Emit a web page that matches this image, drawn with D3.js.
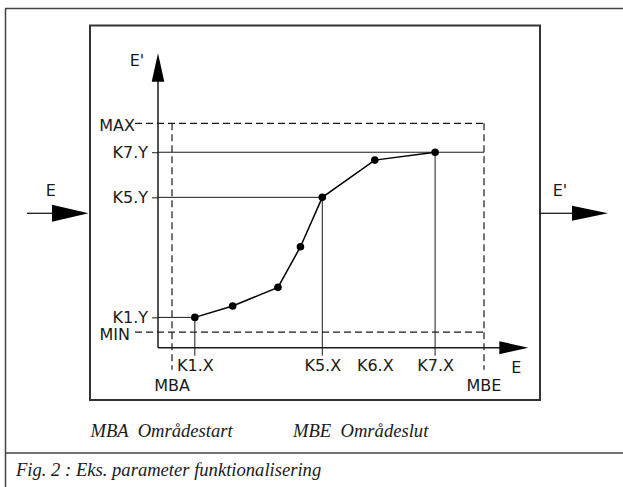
<!DOCTYPE html>
<html>
<head>
<meta charset="utf-8">
<script src="https://cdn.jsdelivr.net/npm/d3@7"></script>
<style>
  body { margin: 0; background: #fff; }
  svg { display: block; }
</style>
</head>
<body>
<div id="chart"></div>
<script>
/* Eks. parameter funktionalisering */

// knot points of the characteristic (E -> E')
const knotX = [11.3, 22.9, 36.8, 43.7, 50.4, 66.5, 85.0];
const knotY = [13.5, 18.6, 26.9, 45.0, 67.0, 83.6, 87.1];

// labelled knots on each axis (index into the knot arrays)
const xKnotLabels = ["K1.X", "K5.X", "K6.X", "K7.X"];
const xKnotIndex = [0, 4, 5, 6];
const yKnotLabels = ["K7.Y", "K5.Y", "K1.Y"];
const yKnotIndex = [6, 4, 0];
// knots that get a drop line to the E axis
const dropIndex = [0, 4, 6];

// range limits
const rangeLabels = ["MBA", "MBE"];
const rangeValues = [4.3, 100];
const limitLabels = ["MAX", "MIN"];
const limitValues = [100, 6.9];

// axis extents (arrow tips)
const xAxisEnd = 113.6;
const yAxisEnd = 131.2;

const legendTexts = ["MBA  Områdestart", "MBE  Områdeslut"];
const caption = "Fig. 2 : Eks. parameter funktionalisering";

const W = 623, H = 487;
const sans = "DejaVu Sans", serif = "Liberation Serif";
const ink = "#1a1a1a";

const svg = d3.select("#chart")
  .append("svg")
  .attr("width", W)
  .attr("height", H);

// scales
const x = d3.scaleLinear().domain([0, 100]).range([158, 484]);
const y = d3.scaleLinear().domain([0, 100]).range([347.7, 123.3]);
const x0 = x(0), y0 = y(0);

// outer frame and caption rule
const frame = svg.append("g").attr("stroke", "#444").attr("stroke-width", 1.5);
frame.append("line").attr("x1", 5).attr("x2", W).attr("y1", 8.5).attr("y2", 8.5);
frame.append("line").attr("x1", 5.5).attr("x2", 5.5).attr("y1", 8.5).attr("y2", H);
frame.append("line").attr("x1", 5).attr("x2", W).attr("y1", 453).attr("y2", 453);

// function block
svg.append("rect")
  .attr("x", 90).attr("y", 25.5)
  .attr("width", 450).attr("height", 374.5)
  .attr("fill", "none")
  .attr("stroke", "#333")
  .attr("stroke-width", 2);

// input / output arrows
function arrowRight(xs, xb, xt, yy, hh) {
  svg.append("line").attr("x1", xs).attr("x2", xb).attr("y1", yy).attr("y2", yy)
    .attr("stroke", ink).attr("stroke-width", 1.3);
  svg.append("path")
    .attr("d", d3.line()([[xb, yy - hh], [xt, yy], [xb, yy + hh]]) + "Z")
    .attr("fill", "#000");
}
arrowRight(27, 52, 88.5, 213.3, 8.5);
arrowRight(540, 572, 608, 213.3, 7.5);

svg.append("text").attr("x", 50.7).attr("y", 195.5).attr("text-anchor", "middle")
  .style("font", "16px '" + sans + "'").attr("fill", ink).text("E");
svg.append("text").attr("x", 560).attr("y", 195.5).attr("text-anchor", "middle")
  .style("font", "16px '" + sans + "'").attr("fill", ink).text("E'");

// dashed range box (MAX / MIN / MBA / MBE)
const dash = svg.append("g")
  .attr("stroke", ink)
  .attr("stroke-width", 1.2)
  .attr("stroke-dasharray", "7,4")
  .attr("fill", "none");

limitValues.forEach(function(v) {
  dash.append("line")
    .attr("x1", x0 - 23).attr("x2", x(rangeValues[1]))
    .attr("y1", y(v)).attr("y2", y(v));
});
rangeValues.forEach(function(v) {
  dash.append("line")
    .attr("x1", x(v)).attr("x2", x(v))
    .attr("y1", y(limitValues[0])).attr("y2", y0 + 22);
});

svg.selectAll(".limit-label")
  .data(limitLabels)
  .enter().append("text")
  .attr("class", "limit-label")
  .attr("x", function(d, i) { return x0 - 23 - (i === 0 ? 0 : 5); })
  .attr("y", function(d, i) { return y(limitValues[i]) + 7.5; })
  .attr("text-anchor", "end")
  .style("font", "16px '" + sans + "'")
  .attr("fill", ink)
  .text(function(d) { return d; });

svg.selectAll(".range-label")
  .data(rangeLabels)
  .enter().append("text")
  .attr("class", "range-label")
  .attr("x", function(d, i) { return x(rangeValues[i]); })
  .attr("y", y0 + 43.5)
  .attr("text-anchor", "middle")
  .style("font", "16px '" + sans + "'")
  .attr("fill", ink)
  .text(function(d) { return d; });

// guide lines from the knots to the axes
const guide = svg.append("g").attr("stroke", ink).attr("stroke-width", 1);
yKnotIndex.forEach(function(k, i) {
  const xEnd = i === 0 ? x(rangeValues[1]) : x(knotX[k]);
  guide.append("line")
    .attr("x1", x0).attr("x2", xEnd)
    .attr("y1", y(knotY[k])).attr("y2", y(knotY[k]));
});
dropIndex.forEach(function(k) {
  guide.append("line")
    .attr("x1", x(knotX[k])).attr("x2", x(knotX[k]))
    .attr("y1", y(knotY[k])).attr("y2", y0 + 8);
});

// y axis (E') with knot ticks
const yAxis = d3.axisLeft(y)
  .tickValues(yKnotIndex.map(function(k) { return knotY[k]; }))
  .tickFormat(function(d, i) { return yKnotLabels[i]; })
  .tickSize(6)
  .tickPadding(4);
const yApp = svg.append("g")
  .attr("transform", "translate(" + x0 + ",0)")
  .call(yAxis);
yApp.select(".domain").remove();

// x axis (E) with knot labels
const xAxis = d3.axisBottom(x)
  .tickValues(xKnotIndex.map(function(k) { return knotX[k]; }))
  .tickFormat(function(d, i) { return xKnotLabels[i]; })
  .tickSize(0)
  .tickPadding(11.5);
const xApp = svg.append("g")
  .attr("transform", "translate(0," + y0 + ")")
  .call(xAxis);
xApp.select(".domain").remove();

[xApp, yApp].forEach(function(a) {
  a.attr("font-family", sans).attr("font-size", 16);
  a.selectAll("line").attr("stroke", ink);
  a.selectAll("text").attr("fill", ink);
});

// axis lines with arrows
svg.append("line")
  .attr("x1", x0).attr("x2", x0)
  .attr("y1", y0).attr("y2", y(yAxisEnd) + 20)
  .attr("stroke", ink).attr("stroke-width", 1.5);
svg.append("path")
  .attr("d", d3.line()([[x0 - 6.3, y(yAxisEnd) + 28.5], [x0, y(yAxisEnd)], [x0 + 6.3, y(yAxisEnd) + 28.5]]) + "Z")
  .attr("fill", "#000");
svg.append("line")
  .attr("x1", x0).attr("x2", x(xAxisEnd) - 20)
  .attr("y1", y0).attr("y2", y0)
  .attr("stroke", ink).attr("stroke-width", 1.5);
svg.append("path")
  .attr("d", d3.line()([[x(xAxisEnd) - 29, y0 - 6.5], [x(xAxisEnd), y0], [x(xAxisEnd) - 29, y0 + 6.5]]) + "Z")
  .attr("fill", "#000");

svg.append("text").attr("x", x0 - 21).attr("y", y(yAxisEnd) + 12.5)
  .attr("text-anchor", "middle")
  .style("font", "16px '" + sans + "'").attr("fill", ink).text("E'");
svg.append("text").attr("x", x(xAxisEnd) - 12).attr("y", y0 + 25)
  .attr("text-anchor", "middle")
  .style("font", "16px '" + sans + "'").attr("fill", ink).text("E");

// characteristic curve
const line = d3.line()
  .x(function(d) { return x(d[0]); })
  .y(function(d) { return y(d[1]); });
const knots = knotX.map(function(v, i) { return [v, knotY[i]]; });

svg.append("path")
  .attr("d", line(knots))
  .attr("fill", "none")
  .attr("stroke", "#000")
  .attr("stroke-width", 1.5);

svg.selectAll(".knot")
  .data(knots)
  .enter().append("circle")
  .attr("class", "knot")
  .attr("cx", function(d) { return x(d[0]); })
  .attr("cy", function(d) { return y(d[1]); })
  .attr("r", 3.8)
  .attr("fill", "#000");

// legend and caption
svg.selectAll(".legend")
  .data(legendTexts)
  .enter().append("text")
  .attr("class", "legend")
  .attr("x", function(d, i) { return i === 0 ? 90.5 : 293; })
  .attr("y", 437)
  .style("font", "italic 18.6px '" + serif + "'")
  .style("white-space", "pre")
  .attr("fill", ink)
  .text(function(d) { return d; });

svg.append("text")
  .attr("x", 16).attr("y", 476)
  .style("font", "italic 18.6px '" + serif + "'")
  .attr("fill", ink)
  .text(caption);
</script>
</body>
</html>
